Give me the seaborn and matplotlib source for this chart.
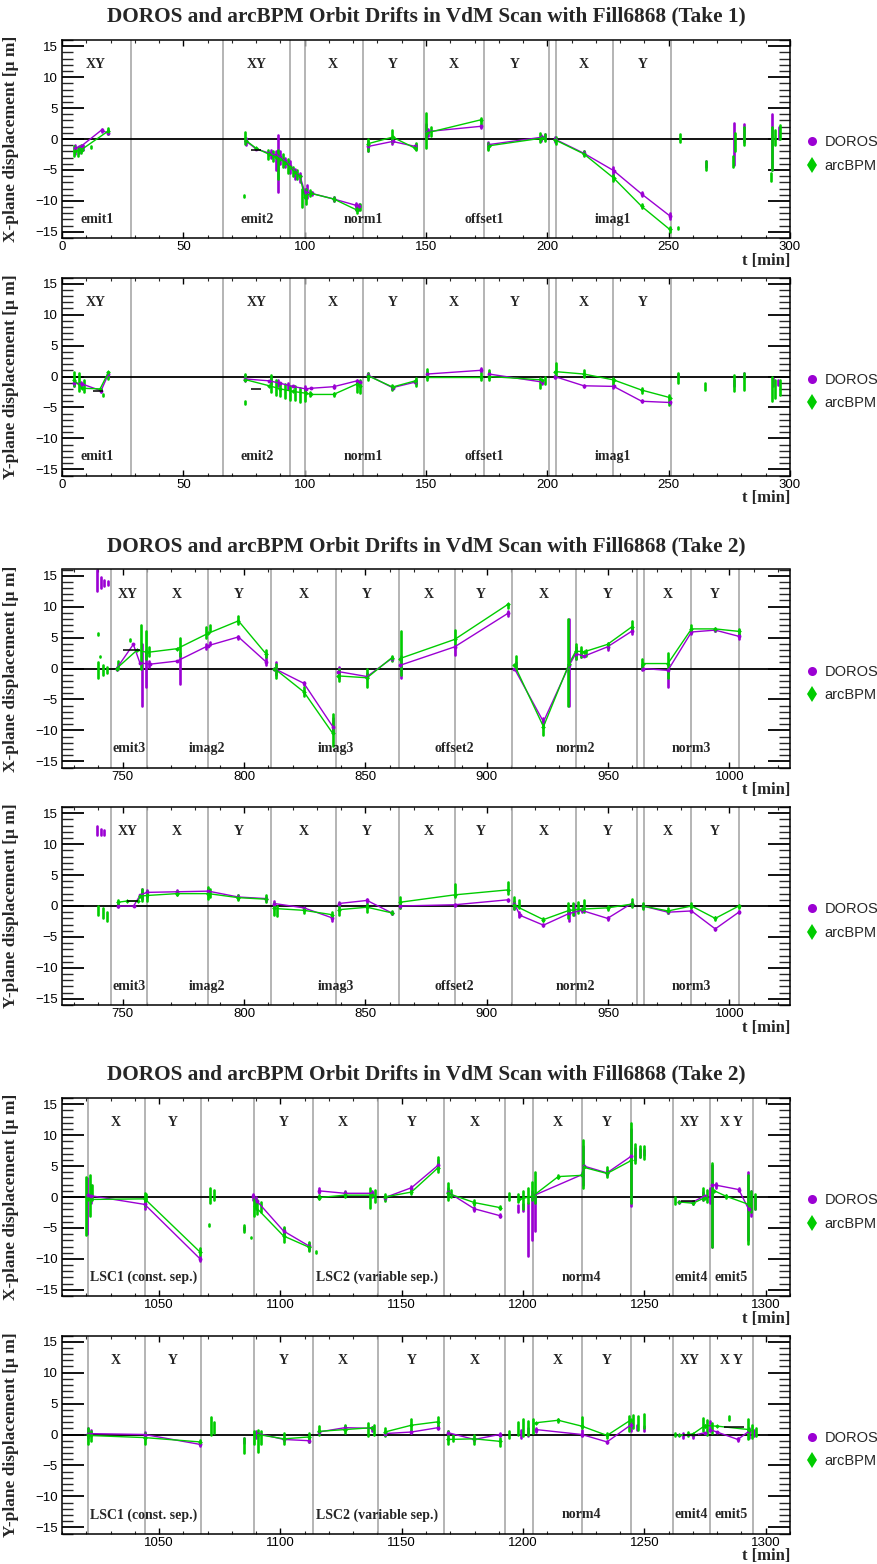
import matplotlib
matplotlib.use("Agg")
import matplotlib.pyplot as plt
from matplotlib.ticker import MultipleLocator
from matplotlib.lines import Line2D
import pandas as pd
import seaborn as sns

sns.set_theme(style="ticks")
plt.rcParams["font.family"] = ["Liberation Sans", "DejaVu Sans"]
plt.rcParams["axes.unicode_minus"] = True
SERIF = ["Liberation Serif", "DejaVu Serif"]

DOROS_COLOR = "#9b00d3"
ARC_COLOR = "#00cc00"
EDGE_COLOR = "#a8a8a8"

# ---------------------------------------------------------------- scan layout
EDGES_TAKE1 = [28.5, 66.5, 94, 100, 124, 149, 174, 200.5, 203.5, 227, 251]
TOP_TAKE1 = [(13.8, "XY"), (80.3, "XY"), (111.7, "X"), (136.2, "Y"), (161.5, "X"),
             (186.5, "Y"), (215, "X"), (239.3, "Y")]
BOTTOM_TAKE1 = [(14.3, "emit1"), (80.3, "emit2"), (124, "norm1"), (174, "offset1"),
                (226.9, "imag1")]

EDGES_TAKE2A = [745.1, 760, 785.3, 811.3, 837.8, 863.8, 886.8, 910.3, 936.7, 962,
                965, 984.4, 1003.9]
TOP_TAKE2A = [(752.2, "XY"), (772.4, "X"), (797.7, "Y"), (824.7, "X"), (850.7, "Y"),
              (876, "X"), (897.6, "Y"), (923.4, "X"), (949.8, "Y"), (974.7, "X"),
              (994.2, "Y")]
BOTTOM_TAKE2A = [(752.6, "emit3"), (784.9, "imag2"), (837.8, "imag3"),
                 (886.8, "offset2"), (936.7, "norm2"), (984.4, "norm3")]

EDGES_TAKE2B = [1020.6, 1044.1, 1067.2, 1089.1, 1113.4, 1140.2, 1167.4, 1192.6,
                1204.2, 1224.2, 1244.6, 1261.9, 1276.9, 1294.7]
TOP_TAKE2B = [(1032.1, "X"), (1055.7, "Y"), (1101.4, "Y"), (1125.6, "X"),
              (1154, "Y"), (1179.9, "X"), (1214.1, "X"), (1234.6, "Y"),
              (1268.8, "XY"), (1285.7, "X Y")]
BOTTOM_TAKE2B = [(1043.6, "LSC1 (const. sep.)"), (1140, "LSC2 (variable sep.)"),
                 (1224.2, "norm4"), (1269.3, "emit4"), (1285.7, "emit5")]

# ------------------------------------------------ take 1, X plane
X1_DOROS_LINES = [
    ([5.4, 8.1, 16.3, 19.1], [-1.5, -1.1, 1.45, 0.9]),
    ([76, 80, 85.5, 88, 90, 92, 94, 96, 98, 100, 103, 112, 121, 122.5],
     [-0.4, -1.6, -2.3, -2.6, -2.9, -3.6, -4.3, -5.2, -5.9, -8.5, -8.8, -9.7, -10.7, -10.8]),
    ([126.2, 136.2, 145.6], [-1.2, -0.4, -1.2]),
    ([150.5, 172.6], [1.2, 2.05]),
    ([175.9, 198], [-0.9, 0.3]),
    ([203, 215, 227.3, 238.9, 250.4], [0, -2.3, -5.1, -8.9, -12.4]),
]
X1_ARC_LINES = [
    ([5.4, 8.1, 19.1], [-2.0, -1.7, 1.3]),
    ([76, 80, 85.5, 88, 90, 92, 94, 96, 98, 100, 102.7, 112, 121.6],
     [-0.3, -1.5, -2.5, -2.9, -3.2, -3.8, -4.6, -5.4, -6.0, -9.3, -8.8, -9.7, -11.5]),
    ([126.2, 136.2, 145.6], [-0.75, 0.3, -1.5]),
    ([150.5, 172.6], [1.0, 3.1]),
    ([175.9, 198], [-1.1, 0.15]),
    ([203, 215, 227.3, 238.9, 250.4], [-0.1, -2.4, -6.3, -10.9, -14.6]),
]
X1_DOROS_SPREAD = [
    (5.5, -2.5, -1.0), (7, -2.2, -1.2), (8.5, -1.8, -1.0), (16.5, 1.2, 1.6), (19, 0.8, 1.5),
    (76, -1.0, 0.2), (86, -3, -1.8), (88, -5, -2), (89, -8.5, 0.7), (90, -4, -2),
    (92, -4.5, -3), (94, -5.5, -3.5), (96, -6.5, -4.8), (98, -7, -5.5), (100, -9.5, -8),
    (101, -9.5, -7.5), (103, -9, -8.5), (112, -10, -9.4), (121, -11.5, -10.4),
    (122.5, -11.5, -10.5), (126, -2, -0.3), (136, -0.8, 0), (146, -1.6, -0.8),
    (150, 0.2, 2.5), (151, 0.5, 1.6), (172.6, 1.8, 2.3), (175.5, -1.6, -0.5),
    (197.5, -0.4, 0.7), (199, 0, 0.8), (203, -0.5, 0.3), (215, -2.6, -2.0),
    (227, -6, -4.5), (239, -9.2, -8.6), (250.4, -12.9, -12), (265.5, -4.5, -3.6),
    (277, -4.2, 2.6), (281, -0.5, 2.5), (292.5, -5, 4), (295.5, 0, 2),
]
X1_ARC_SPREAD = [
    (5, -2.8, -1.2), (6.5, -2.7, -1.3), (8, -2.3, -1), (12, -1.5, -1.2), (19, 0.8, 1.7),
    (75.5, -0.8, 1.2), (75, -9.3, -9.0), (85, -3.2, -1.8), (87, -3.5, -2), (89, -6.5, -1.8),
    (91, -4.5, -2.5), (93, -5.5, -3.2), (95, -6, -4.5), (97, -6.5, -5), (99, -11, -8),
    (100.5, -10.5, -8), (102, -9.2, -8.3), (112, -10, -9.3), (121.5, -12, -10.8),
    (123, -11.5, -10.5), (126, -2, 0), (136, -0.5, 1.4), (146, -1.8, -0.7),
    (150, -1.5, 4.2), (152, 0.5, 2), (172.6, 2.5, 3.4), (175.5, -1.8, -0.6),
    (197, -0.5, 1.0), (199, -0.3, 0.8), (203.5, -0.8, 0.3), (215, -2.8, -2.0),
    (227, -6.8, -5.8), (239, -11.2, -10.5), (250.4, -15, -14.2), (254, -14.6, -14.3),
    (254.5, -0.5, 0.8), (265.5, -5, -3.5), (276.5, -4.5, -2.8), (277.5, -2, 1),
    (281, -1, 2.0), (292, -6.8, -5.5), (292.5, -5, 2), (294, -1, 1.5), (296, 0, 2.2),
]
X1_FITS = [(78, 82, -1.8)]

# ------------------------------------------------ take 1, Y plane
Y1_DOROS_LINES = [
    ([4.9, 8.2, 16.1, 19.1], [-1.07, -1.2, -2.3, 0.4]),
    ([75.5, 85.4, 90, 95, 100.4, 102.7, 111.9, 121.6, 123],
     [-0.4, -0.7, -1.1, -1.6, -2.0, -1.9, -1.65, -0.7, -0.9]),
    ([126.2, 136.2, 145.6], [0.2, -1.8, -0.9]),
    ([150.5, 172.6], [0.4, 1.0]),
    ([175.9, 198], [0.4, -0.9]),
    ([203, 215, 227.3, 238.9, 250.4], [0, -1.5, -1.6, -4.0, -4.2]),
]
Y1_ARC_LINES = [
    ([4.9, 8.2, 15.7, 19.1], [-0.5, -1.9, -2.0, 0.65]),
    ([75.5, 85.4, 90, 95, 100.4, 102.7, 111.9, 121.6, 123],
     [-0.5, -1.5, -2.0, -2.4, -2.7, -2.9, -2.9, -1.2, -1.5]),
    ([126.2, 136.2, 145.6], [0.1, -1.7, -0.7]),
    ([150.5, 172.6], [0.0, 0.0]),
    ([175.9, 198], [0.0, -0.55]),
    ([203, 215, 227.3, 238.9, 250.4], [0.8, 0.4, -0.55, -2.2, -3.4]),
]
Y1_DOROS_SPREAD = [
    (5, -1.5, -0.5), (8, -1.6, -0.9), (16, -2.5, -2.1), (19, 0, 0.6), (75.5, -0.8, 0.2),
    (86, -1.2, -0.3), (89, -1.5, -0.5), (93, -2, -1), (100, -2.3, -1.6), (112, -1.9, -1.4),
    (121.5, -1.1, -0.5), (126, -0.2, 0.6), (136, -2, -1.5), (146, -1.2, -0.6),
    (150.5, 0, 0.8), (172.6, 0.8, 1.3), (175.9, 0, 0.8), (198, -1.2, -0.6),
    (203, -0.2, 0.3), (215, -1.7, -1.3), (227, -1.9, -1.3), (239, -4.2, -3.8),
    (250.4, -4.4, -3.9), (254, 0, 0.4), (277, -1.5, -0.5), (281, -0.2, 0.6),
    (293, -1.5, -0.3), (295, -1.3, -0.5),
]
Y1_ARC_SPREAD = [
    (5, -1.5, 0.8), (7, -2.3, 0.5), (9, -2.5, -0.5), (17, -3.2, -2.8), (19, -0.4, 0.8),
    (75.5, -0.5, 0.4), (75.5, -4.5, -4.0), (86, -2.5, 0.2), (88, -3, -0.5), (90, -3.2, -1),
    (92, -3.5, -1.2), (94, -3.8, -1.5), (96, -3.8, -1.5), (98, -4.2, -1.8), (100, -4, -2),
    (102, -3.2, -2.5), (112, -3.2, -2.6), (121.5, -2.5, -1), (123, -2.6, -0.5),
    (126, -0.5, 0.6), (136, -2.2, -1.3), (146, -1.6, -0.2), (150.5, -0.6, 1.2),
    (172.6, -0.5, 0.6), (175.9, -0.5, 1.0), (197, -1.8, -0.3), (199, -1.2, 0),
    (203.5, 0, 2.2), (215, 0, 1), (227, -1.2, -0.3), (239, -2.6, -1.8), (250, -4.6, -3),
    (254, -1, 0.5), (265, -2.2, -1), (277, -2.3, 0.2), (281, -2.2, 0.6),
    (292.5, -4, 0), (294, -3.5, -0.5), (296, -3, -0.5),
]
Y1_FITS = [(12.7, 16.8, -2.4), (78, 82, -2.0)]

# ------------------------------------------------ take 2 (first part), X plane
X2_DOROS_LINES = [
    ([747.5, 754.4, 757.1, 761.3, 772.4, 785.3, 797.7, 809.0],
     [0, 3.9, 0.9, 0.7, 1.2, 3.7, 5.1, 1.1]),
    ([812.5, 824.7, 836.6], [0, -2.4, -9.4]),
    ([838.9, 850.7, 860.8], [-0.5, -1.3, 1.6]),
    ([864.2, 886.8, 908.7], [0.5, 3.5, 8.9]),
    ([911.4, 923.4, 934, 936.7, 940.2, 949.8, 959.7], [0, -8.6, 0.5, 2.4, 2.0, 3.5, 6.0]),
    ([964.3, 974.7, 984.4, 994.2, 1003.9], [0, -0.3, 5.9, 6.2, 5.2]),
]
X2_ARC_LINES = [
    ([747.5, 756, 760, 772.4, 785.3, 797.7, 809.0], [0, 3.0, 2.6, 3.2, 5.7, 7.7, 2.4]),
    ([812.5, 824.7, 836.6], [0, -3.8, -10.5]),
    ([838.9, 850.7, 860.8], [-1.2, -1.5, 1.7]),
    ([864.2, 886.8, 908.7], [1.6, 4.7, 10.35]),
    ([911.4, 923.4, 934, 936.7, 940.2, 949.8, 959.7], [0.6, -9.4, 0.8, 2.8, 2.7, 3.9, 6.7]),
    ([964.3, 974.7, 984.4, 994.2, 1003.9], [0.8, 0.8, 6.4, 6.4, 6.0]),
]
X2_DOROS_SPREAD = [
    (739.5, 12.5, 16), (741, 13, 14.8), (742.5, 13.3, 14.3), (744, 13.5, 14.2),
    (747.5, -0.3, 0.3), (758, -6, 4), (759.5, -3, 3), (761, 0.3, 1.2), (773.5, -2.5, 2.5),
    (784.5, 3.2, 4), (786, 3.8, 4.3), (797.7, 4.8, 5.3), (809, 0.5, 2), (813, -1, 1),
    (824.7, -2.6, -2.2), (836.5, -10.5, -8), (839, -1.5, 0.2), (850.7, -1.5, -0.8),
    (861, 1.3, 1.8), (864.5, -1.5, 2), (886.8, 2.2, 3.8), (908.7, 8.5, 9.3),
    (912, -0.2, 1), (923.4, -9.2, -8), (934, -6, 8), (937, 1.5, 3.5), (939, 1.8, 3),
    (950, 3, 3.7), (959.7, 5.5, 6.5), (964, -0.3, 0.6), (974.7, -3, 0),
    (984.4, 5.5, 6.2), (994.2, 6, 6.4), (1003.9, 4.8, 5.6),
]
X2_ARC_SPREAD = [
    (740, -1.5, 1), (740, 5.4, 5.7), (740.5, 1.8, 2.1), (742, -1, 0.5), (743.5, -0.8, 0.3),
    (748, 0, 1.2), (753, 4.5, 4.8), (757.5, 0, 7), (759.5, 1.5, 6), (761, 2, 3.5),
    (773.5, 2, 5), (784.5, 5, 6.7), (786, 6, 7), (797.7, 7.2, 8.5), (809, 1.8, 3),
    (813, -1.5, 0.8), (824.7, -4.5, -3), (836.5, -12.5, -7.3), (839, -2, 0),
    (850.7, -3, 0), (861, 1.2, 2), (864.5, -1, 6), (886.8, 4, 6.2), (908.7, 9.8, 10.5),
    (912, 0, 2), (923.4, -10.8, -8.8), (933.5, -6, 8), (937, 1.5, 4), (939, 1.8, 3.5),
    (941, 2, 3), (950, 3.3, 4.1), (959.7, 6, 7.6), (964, 0, 1.5), (974.7, -1.5, 2.5),
    (984.4, 6, 7), (994.2, 6.1, 6.6), (1003.9, 5.5, 6.4),
]
X2_FITS = [(750, 757, 3.0)]

# ------------------------------------------------ take 2 (first part), Y plane
Y2_DOROS_LINES = [
    ([748, 754.5, 757.3, 760, 772.4, 785.3, 797.7, 809],
     [0, 0, 1.8, 2.2, 2.3, 2.4, 1.45, 1.2]),
    ([812.5, 824.7, 836.2], [0.4, -0.3, -1.9]),
    ([839, 850.7, 860.8], [0.4, 0.9, -1.1]),
    ([864.2, 886.8, 908.7], [0, 0.2, 1.0]),
    ([911.4, 913.7, 923.4, 934, 939.1, 949.8, 959.7], [0.4, -1.5, -3.1, -1.2, -0.7, -2.0, 0.4]),
    ([964.3, 974.7, 984.4, 994.2, 1003.9], [0, -1.0, -0.8, -3.7, -1.0]),
]
Y2_ARC_LINES = [
    ([748, 751.7, 756.3, 757.3, 760, 772.4, 785.3, 797.7, 809],
     [0.6, 0.8, 0.8, 1.6, 1.7, 2.0, 2.0, 1.35, 1.1]),
    ([812.5, 824.7, 836.2], [-0.4, -0.7, -1.4]),
    ([839, 850.7, 860.8], [-0.6, -0.2, -1.1]),
    ([864.2, 886.8, 908.7], [0.6, 1.8, 2.6]),
    ([911.4, 923.4, 934, 939.1, 949.8, 959.7], [0.1, -2.2, -0.7, -0.5, -0.3, 0.3]),
    ([964.3, 974.7, 984.4, 994.2, 1003.9], [0, -0.8, 0, -2.0, 0]),
]
Y2_DOROS_SPREAD = [
    (739.5, 11.5, 13), (741, 11.5, 12.5), (742.5, 11.5, 12.3), (748, -0.2, 0.3),
    (758, 1.2, 2.8), (760, 1.5, 2.6), (772.4, 2, 2.6), (785.3, 2, 2.7), (797.7, 1.2, 1.7),
    (809, 0.8, 1.4), (812.5, 0, 0.8), (836.2, -2.4, -1.5), (839, 0, 0.6),
    (850.7, 0.5, 1.2), (860.8, -1.3, -0.9), (864.2, -0.3, 0.5), (886.8, 0, 0.4),
    (908.7, 0.8, 1.2), (911.4, -0.5, 0.8), (913.5, -1.8, -1), (923.4, -3.3, -2.9),
    (934, -2.5, -0.5), (936, -1.5, 0.3), (939.1, -1, -0.3), (949.8, -2.2, -1.8),
    (959.7, 0, 0.6), (964.3, -0.3, 0.4), (974.7, -1.2, -0.8), (984.4, -1, -0.6),
    (994.2, -3.9, -3.5), (1003.9, -1.2, -0.8),
]
Y2_ARC_SPREAD = [
    (740, -1.5, 0), (742, -2, -0.3), (743.5, -2.5, -1), (748, 0, 1), (758, 0.8, 2.8),
    (760, 0.8, 2.5), (772.4, 1.7, 2.5), (785.3, 1.2, 3), (786, 1.5, 2.8), (797.7, 1, 1.7),
    (809, 0.6, 1.8), (812.5, -1.5, 0.5), (813.5, -1.6, 0), (824.7, -1.2, -0.3),
    (836.2, -2, -1), (839, -1.5, 0.5), (850.7, -1, 0.3), (860.8, -1.3, -0.8),
    (864.2, -0.3, 1.5), (886.8, 1.4, 3.5), (908.7, 2, 3.8), (911.4, -0.5, 1.5),
    (913.5, -0.3, 1), (923.4, -2.5, -2), (933.5, -2, 0.5), (935.5, -1.5, 0.5),
    (937.5, -1.2, 0.6), (940, -1, 1), (949.8, -0.6, 0), (959.7, -0.2, 1.2),
    (964.3, -0.5, 0.5), (974.7, -1.2, -0.4), (984.4, -0.3, 0.5), (994.2, -2.3, -1.8),
    (1003.9, -0.4, 0.2),
]
Y2_FITS = [(751.7, 756.3, 0.8)]

# ------------------------------------------------ take 2 (second part), X plane
X3_DOROS_LINES = [
    ([1020.6, 1022, 1044.1, 1066.9], [0.3, 0.2, -1.2, -10.0]),
    ([1088.7, 1090.2, 1101.3, 1111.7], [0.2, -0.6, -5.5, -7.9]),
    ([1115.8, 1126.6, 1137.7], [1.0, 0.6, 0.6]),
    ([1143, 1154, 1164.9], [-0.1, 1.5, 5.1]),
    ([1169, 1179.9, 1190.3], [0.8, -1.9, -3.0]),
    ([1204.2, 1224.2, 1225, 1234.6, 1244.6], [0.2, 3.6, 5.0, 3.9, 6.6]),
    ([1264.2, 1270, 1275], [-0.8, -0.8, 0.2]),
    ([1278, 1279.7, 1288.9, 1293], [2.0, 1.9, 1.2, -2.0]),
]
X3_ARC_LINES = [
    ([1020.6, 1044.1, 1066.9], [-0.4, -0.3, -8.9]),
    ([1089.5, 1101.3, 1111.7], [-1.5, -6.3, -8.1]),
    ([1115.8, 1126.6, 1137.7], [-0.1, 0.3, 0.3]),
    ([1143, 1154, 1164.9], [0, 0.8, 4.7]),
    ([1169, 1179.9, 1190.3], [0.6, -0.9, -1.7]),
    ([1198.4, 1204.2, 1214.5, 1224.2, 1225, 1234.6, 1244.6],
     [-0.4, 0.2, 3.3, 3.5, 4.8, 3.8, 5.9]),
    ([1264.2, 1270, 1275], [-0.8, -1.0, -0.1]),
    ([1278.8, 1283.8, 1293], [1.0, 0.1, -1.2]),
]
X3_DOROS_SPREAD = [
    (1020.5, -6, 3), (1022, -1, 2), (1044.1, -2, -0.5), (1066.9, -10.3, -9.6),
    (1085, -5.3, -4.8), (1088.7, -0.5, 0.5), (1090, -2, 0), (1101.3, -6, -5),
    (1111.7, -8.5, -7.5), (1115.8, 0.6, 1.4), (1126.6, 0.3, 0.9), (1137.7, 0, 1),
    (1143, -0.5, 0.2), (1154, 1.2, 1.8), (1164.9, 4.5, 6), (1169, 0.2, 1.5),
    (1179.9, -2.2, -1.6), (1190.3, -3.3, -2.7), (1198, -2.5, -1.3), (1200, -2.3, -1.2),
    (1202, -9.5, -1), (1203.5, -7, 1), (1205, -5.5, 0.5), (1224.5, 2, 8.2),
    (1234.6, 3.5, 4.3), (1244.5, -1.5, 11), (1246, 6, 8), (1248, 6.5, 7.8),
    (1250, 6.8, 7.6), (1264.2, -1, -0.6), (1270, -1.1, -0.6), (1274, -0.5, 0.8),
    (1277, -1, 1.5), (1278, -8, 5.2), (1279.7, 1.5, 2.3), (1288.9, 0.9, 1.5),
    (1292.5, -7, 4), (1294, -3, 1), (1295.5, -2, 0),
]
X3_ARC_SPREAD = [
    (1020, -6.2, 3.3), (1021.5, -3, 3.5), (1022.5, -0.5, 2), (1044.1, -1.5, 0.6),
    (1044.8, -0.5, 0.5), (1066.9, -9.3, -8.3), (1071, -1, 1.5), (1072.5, -0.5, 1.2),
    (1070.5, -4.7, -4.4), (1085, -5.6, -4.6), (1088, -6.7, -6.5), (1089, -3, 0),
    (1090.5, -2.8, -0.5), (1092, -2.5, -0.8), (1101.3, -7.2, -4.8), (1111.7, -8.8, -7.2),
    (1114.8, -9, -8.7), (1115.8, -0.3, 0.3), (1126.6, 0, 0.8), (1137, -1.8, 1.5),
    (1139, -0.8, 1.2), (1143, -0.7, 0.5), (1154, 0.5, 1.2), (1164.9, 4, 6.5),
    (1169, -0.5, 2.2), (1170.5, 0, 1.2), (1179.9, -1.3, -0.5), (1190.3, -2, -1.4),
    (1194, -0.5, 0.6), (1198, -0.8, 0.5), (1200, -2, 1), (1202, -1, 1.5),
    (1203.5, -0.5, 2.5), (1205, -1, 4), (1214.5, 3, 3.6), (1224.5, 1.5, 9.2),
    (1234.6, 3.2, 4.8), (1244.5, -1, 12), (1246, 5.5, 8.5), (1248, 6.5, 8.3),
    (1250, 6.2, 8.2), (1262.5, -1.1, 0), (1270, -1.2, -0.8), (1274, -0.5, 1.5),
    (1276, -0.8, 1.2), (1278, -8, 5.5), (1283.8, -0.1, 0.3), (1292.5, -7.6, 3.6),
    (1294, -2.5, 1), (1295.5, -2, 0.5),
]
X3_FITS = [(1265, 1271, -0.65)]

# ------------------------------------------------ take 2 (second part), Y plane
Y3_DOROS_LINES = [
    ([1020.6, 1044.1, 1066.9], [0.15, 0, -1.6]),
    ([1090.8, 1101.4, 1111.7], [0.15, -0.8, -1.0]),
    ([1115.8, 1126.6, 1137.7], [0.4, 1.1, 1.0]),
    ([1143, 1154, 1164.9], [0.15, 0.4, 1.1]),
    ([1169, 1179.9, 1190.3], [0.3, -0.8, 0]),
    ([1205.3, 1224.2, 1234.6, 1244.6], [0.8, 0, -1.2, 1.6]),
    ([1264.2, 1270, 1275], [-0.15, -0.15, 0.3]),
    ([1277, 1279.9, 1288.5, 1293], [0.8, 0.4, -0.8, 0.5]),
]
Y3_ARC_LINES = [
    ([1020.6, 1044.1, 1066.9], [-0.15, -0.5, -1.2]),
    ([1090.8, 1101.4, 1111.7], [0, -0.7, -0.4]),
    ([1115.8, 1126.6, 1137.7], [0.5, 0.8, 1.1]),
    ([1143, 1154, 1164.9], [0.4, 1.5, 2.05]),
    ([1169, 1179.9, 1190.3], [-0.8, -0.7, -1.1]),
    ([1205.3, 1214.5, 1224.2, 1234.6, 1244.6], [1.9, 2.3, 1.35, -0.15, 2.4]),
    ([1264.2, 1270, 1275], [-0.15, 0.1, 1.45]),
    ([1275, 1280, 1293], [1.45, 1.35, 0.8]),
]
Y3_DOROS_SPREAD = [
    (1020.6, -0.5, 1), (1022, -0.3, 0.8), (1044.1, -0.3, 0.4), (1066.9, -1.9, -1.3),
    (1085, -1.3, -0.5), (1090, -0.5, 0.5), (1101.4, -1, -0.6), (1111.7, -1.2, -0.8),
    (1115.8, 0.2, 0.6), (1126.6, 0.9, 1.3), (1137.7, 0.6, 1.2), (1143, 0, 0.4),
    (1154, 0.2, 0.6), (1164.9, 0.9, 1.4), (1169, 0, 0.6), (1179.9, -1, -0.6),
    (1190.3, -0.2, 0.2), (1199, -0.5, 0.8), (1202, -0.3, 1), (1205.3, 0.4, 1),
    (1224.2, -0.3, 0.8), (1234.6, -1.4, -1), (1244.6, 0.5, 2), (1247, 0.8, 1.6),
    (1250, 0.5, 1.3), (1266, -0.5, 0.2), (1270, -0.6, 0), (1277, 0.5, 2.2),
    (1288.5, -1, -0.6), (1293, -0.5, 1), (1295, -0.3, 0.8),
]
Y3_ARC_SPREAD = [
    (1020.6, -1.5, 1), (1022, -1, 0.6), (1044.1, -1.5, 0.3), (1066.9, -1.6, -0.9),
    (1071.5, 0, 2.8), (1072.5, 0.3, 2), (1085, -3, -0.5), (1089, -1.5, 0.5),
    (1090.8, -2.8, 0.8), (1092, -1.5, 0.5), (1101.4, -1.5, 0.3), (1111.7, -1.2, 0.3),
    (1115.8, 0, 1.3), (1126.6, 0.2, 1.5), (1136, -0.2, 1.8), (1138.5, 0, 1.5),
    (1143, -0.3, 1), (1154, 0.6, 2.5), (1164.9, 1.2, 2.8), (1169, -1.5, 0.5),
    (1171, -1, 0), (1179.9, -1.5, 0), (1190.3, -1.8, -0.5), (1194, -0.5, 0.5),
    (1198, 0, 2), (1200, -0.2, 2.5), (1202, 0, 2.2), (1204, 0.3, 2.5), (1214.5, 2.1, 2.5),
    (1224.2, 1, 2.8), (1234.6, -0.5, 0.2), (1243.5, 0.5, 3), (1245.5, 1, 3.2),
    (1247.5, 0.8, 3), (1250, 1, 3.3), (1262.5, -0.3, 0.2), (1268, -0.3, 0.4),
    (1274, 0.5, 2.6), (1276, 0, 2.3), (1278, 0.3, 1.8), (1285, 2.3, 3),
    (1292.5, -0.8, 2.5), (1294.5, -0.5, 1.5), (1296, -0.3, 1),
]
Y3_FITS = [(1266, 1272, 0.0), (1283, 1291, 1.25)]

TITLES = ["DOROS and arcBPM Orbit Drifts in VdM Scan with Fill6868 (Take 1)",
          "DOROS and arcBPM Orbit Drifts in VdM Scan with Fill6868 (Take 2)",
          "DOROS and arcBPM Orbit Drifts in VdM Scan with Fill6868 (Take 2)"]
XLIMS = [(0, 300), (725, 1025), (1010, 1310)]
YLIM = (-16, 16)

# ---------------------------------------------------------------- geometry
W, H = 877, 1564
AX_LEFT, AX_WIDTH, AX_HEIGHT = 62, 728, 198
AX_TOPS = [40, 277.5, 569.5, 807, 1098, 1335.5]


def lines_frame(lines):
    rows = []
    for seg, (ts, ys) in enumerate(lines):
        for t, y in zip(ts, ys):
            rows.append((seg, t, y))
    return pd.DataFrame(rows, columns=["seg", "t", "y"])


def draw_spread(ax, spread, color, z):
    ts = [s[0] for s in spread]
    lo = [s[1] for s in spread]
    hi = [s[2] for s in spread]
    ax.vlines(ts, lo, hi, colors=color, lw=1.9, capstyle="round", zorder=z)


def draw_panel(ax, xlim, edges, top, bottom, d_lines, a_lines, d_spread, a_spread,
               fits, ylabel):
    ax.set_xlim(*xlim)
    ax.set_ylim(*YLIM)
    for e in edges:
        ax.axvline(e, color=EDGE_COLOR, lw=1.2, zorder=1)
    ax.axhline(0, color="black", lw=1.3, zorder=1.5)

    draw_spread(ax, d_spread, DOROS_COLOR, 2)
    draw_spread(ax, a_spread, ARC_COLOR, 2.2)

    sns.lineplot(data=lines_frame(d_lines), x="t", y="y", units="seg", estimator=None,
                 sort=False, color=DOROS_COLOR, lw=1.0, marker="o", markersize=2.8,
                 markeredgewidth=0, ax=ax, legend=False, zorder=3)
    sns.lineplot(data=lines_frame(a_lines), x="t", y="y", units="seg", estimator=None,
                 sort=False, color=ARC_COLOR, lw=1.0, marker="D", markersize=2.4,
                 markeredgewidth=0, ax=ax, legend=False, zorder=3.2)
    for t0, t1, y in fits:
        ax.hlines(y, t0, t1, colors="black", lw=1.1, zorder=3.5)

    for t, s in top:
        ax.text(t, 12, s, ha="center", va="center", family=SERIF, fontweight="bold",
                fontsize=10, zorder=4)
    for t, s in bottom:
        ax.text(t, -13, s, ha="center", va="center", family=SERIF, fontweight="bold",
                fontsize=10, zorder=4)

    ax.set_xlabel("")
    ax.set_ylabel(ylabel, family=SERIF, fontweight="bold", fontsize=12.5)
    ax.yaxis.set_label_coords(-0.059, 0.5)
    ax.text(1.0, -0.116, "t [min]", transform=ax.transAxes, ha="right", va="center",
            family=SERIF, fontweight="bold", fontsize=12)

    ax.xaxis.set_major_locator(MultipleLocator(50))
    ax.xaxis.set_minor_locator(MultipleLocator(10))
    ax.yaxis.set_major_locator(MultipleLocator(5))
    ax.yaxis.set_minor_locator(MultipleLocator(1))
    ax.tick_params(axis="y", which="major", direction="in", length=15.8, width=1.3,
                   left=True, right=True, labelsize=9.5, pad=3, colors="black")
    ax.tick_params(axis="y", which="minor", direction="in", length=7.9, width=1.0,
                   left=True, right=True)
    ax.tick_params(axis="x", which="major", direction="in", length=4.5, width=1.0,
                   bottom=True, top=True, labelsize=9.5, pad=2.5, colors="black")
    ax.tick_params(axis="x", which="minor", direction="in", length=2.3, width=0.8,
                   bottom=True, top=True)
    for sp in ax.spines.values():
        sp.set_visible(True)
        sp.set_color("black")
        sp.set_linewidth(1.1)
    ax.set_facecolor("white")

    handles = [
        Line2D([], [], ls="none", marker="o", ms=6.5, color=DOROS_COLOR, mew=0),
        Line2D([], [], ls="none", marker="d", ms=8, color=ARC_COLOR, mew=0),
    ]
    ax.legend(handles, ["DOROS", "arcBPM"], loc="center left",
              bbox_to_anchor=(1.0202, 0.424), frameon=False, borderpad=0,
              borderaxespad=0, handlelength=1.0, handletextpad=0.35,
              labelspacing=0.65, fontsize=10.5)


fig = plt.figure(figsize=(W / 100, H / 100), dpi=100)
fig.patch.set_facecolor("white")

panels = [
    (0, EDGES_TAKE1, TOP_TAKE1, BOTTOM_TAKE1, X1_DOROS_LINES, X1_ARC_LINES,
     X1_DOROS_SPREAD, X1_ARC_SPREAD, X1_FITS, "X-plane displacement [μ m]"),
    (0, EDGES_TAKE1, TOP_TAKE1, BOTTOM_TAKE1, Y1_DOROS_LINES, Y1_ARC_LINES,
     Y1_DOROS_SPREAD, Y1_ARC_SPREAD, Y1_FITS, "Y-plane displacement [μ m]"),
    (1, EDGES_TAKE2A, TOP_TAKE2A, BOTTOM_TAKE2A, X2_DOROS_LINES, X2_ARC_LINES,
     X2_DOROS_SPREAD, X2_ARC_SPREAD, X2_FITS, "X-plane displacement [μ m]"),
    (1, EDGES_TAKE2A, TOP_TAKE2A, BOTTOM_TAKE2A, Y2_DOROS_LINES, Y2_ARC_LINES,
     Y2_DOROS_SPREAD, Y2_ARC_SPREAD, Y2_FITS, "Y-plane displacement [μ m]"),
    (2, EDGES_TAKE2B, TOP_TAKE2B, BOTTOM_TAKE2B, X3_DOROS_LINES, X3_ARC_LINES,
     X3_DOROS_SPREAD, X3_ARC_SPREAD, X3_FITS, "X-plane displacement [μ m]"),
    (2, EDGES_TAKE2B, TOP_TAKE2B, BOTTOM_TAKE2B, Y3_DOROS_LINES, Y3_ARC_LINES,
     Y3_DOROS_SPREAD, Y3_ARC_SPREAD, Y3_FITS, "Y-plane displacement [μ m]"),
]

for i, (grp, edges, top, bottom, dl, al, ds, aspr, fits, ylab) in enumerate(panels):
    t_px = AX_TOPS[i]
    rect = [AX_LEFT / W, 1 - (t_px + AX_HEIGHT) / H, AX_WIDTH / W, AX_HEIGHT / H]
    ax = fig.add_axes(rect)
    draw_panel(ax, XLIMS[grp], edges, top, bottom, dl, al, ds, aspr, fits, ylab)
    if i % 2 == 0:
        fig.text((AX_LEFT + AX_WIDTH / 2) / W, 1 - (t_px - 23.5) / H, TITLES[grp],
                 ha="center", va="center", family=SERIF, fontweight="bold",
                 fontsize=15.3)

fig.savefig("out.png", dpi=100, facecolor="white")
